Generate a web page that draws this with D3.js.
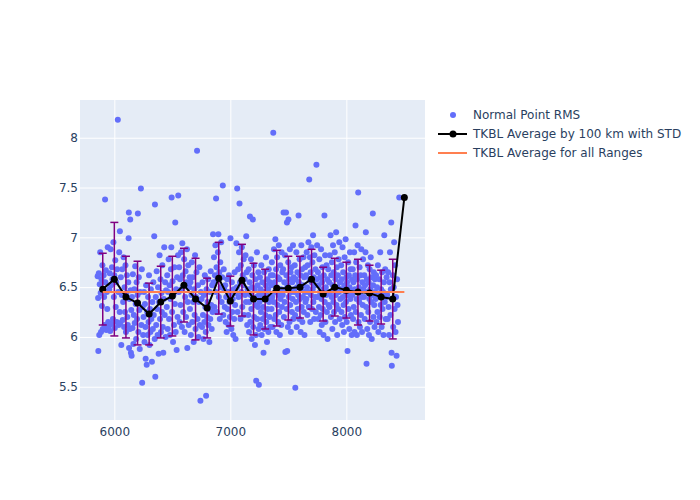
<!DOCTYPE html>
<html>
<head>
<meta charset="utf-8">
<script src="https://cdn.jsdelivr.net/npm/d3@7"></script>
<style>
  html, body { margin: 0; padding: 0; background: #fff; }
  text { font-family: "DejaVu Sans", sans-serif; }
</style>
</head>
<body>
<svg id="chart" width="700" height="500"></svg>
<script>
// ---- data ----
const rmsPoints = [
[5856,6.61],[5860,6.39],[5862,5.86],[5866,6.64],[5870,6.02],[5874,6.53],[5878,6.85],[5882,6.44],[5885,6.05],[5889,6.58],[5893,6.31],[5897,6.72],[5900,6.08],[5904,6.48],[5908,6.62],[5912,6.40],[5916,6.12],[5920,7.38],[5923,6.55],[5927,6.67],[5931,6.07],[5935,6.45],[5939,6.28],[5943,6.90],[5947,6.15],
[5952,6.10],[5956,6.48],[5960,6.64],[5964,6.06],[5968,6.88],[5972,6.52],[5976,6.13],[5980,6.70],[5984,6.58],[5988,6.18],[5992,6.95],[5996,6.40],[6000,6.62],[6004,6.09],[6008,6.77],[6012,6.30],[6016,6.55],[6020,6.15],[6024,6.68],[6030,8.18],[6034,6.45],[6038,6.12],[6042,6.85],[6046,6.25],[6048,7.06],
[6052,6.14],[6056,6.60],[6060,5.92],[6064,6.42],[6068,6.68],[6072,6.17],[6076,6.35],[6080,6.80],[6084,6.10],[6088,6.50],[6092,6.25],[6096,6.72],[6100,6.05],[6104,6.44],[6108,6.62],[6112,6.20],[6116,6.12],[6120,6.55],[6123,6.99],[6125,7.25],[6127,5.89],[6131,6.38],[6134,6.08],[6137,7.18],[6140,6.47],[6143,5.84],[6146,6.27],[6149,5.81],
[6152,6.40],[6156,6.09],[6160,6.63],[6164,5.93],[6168,6.22],[6172,6.48],[6176,6.14],[6180,6.71],[6184,6.33],[6188,5.98],[6192,6.55],[6196,6.18],[6200,6.42],[6203,7.24],[6207,6.05],[6211,6.60],[6215,6.27],[6219,5.88],[6223,6.45],[6229,7.49],[6233,6.12],[6237,6.68],[6240,5.54],[6244,6.30],[6248,6.02],
[6252,6.20],[6256,6.45],[6260,5.95],[6264,6.33],[6268,6.10],[6270,5.78],[6274,6.52],[6279,5.72],[6283,6.25],[6287,6.02],[6291,6.40],[6295,6.15],[6299,6.62],[6303,5.92],[6307,6.28],[6311,6.05],[6315,6.48],[6319,6.18],[6324,5.75],[6328,6.35],[6332,6.08],[6336,6.55],[6340,6.22],[6344,7.01],[6348,5.98],
[6350,7.33],[6353,5.60],[6357,6.40],[6361,6.12],[6365,6.66],[6369,6.28],[6373,6.02],[6377,6.50],[6382,5.83],[6386,6.35],[6390,6.82],[6394,6.18],[6398,6.58],[6402,6.05],[6406,6.44],[6410,6.25],[6414,6.72],[6418,6.10],[6422,5.84],[6426,6.38],[6430,6.90],[6434,6.22],[6438,6.55],[6442,6.00],[6446,6.47],
[6452,6.30],[6456,6.62],[6460,6.08],[6464,6.45],[6468,6.78],[6472,6.18],[6476,6.52],[6480,6.02],[6484,6.38],[6488,6.68],[6491,6.90],[6494,7.40],[6498,6.25],[6502,6.56],[6506,5.95],[6510,6.42],[6514,6.12],[6518,6.70],[6522,6.33],[6525,7.15],[6529,6.05],[6533,6.48],[6537,5.87],[6541,6.60],[6545,6.20],[6549,6.82],
[6551,7.42],[6555,6.45],[6559,6.70],[6563,6.15],[6567,6.58],[6571,6.32],[6575,6.85],[6579,6.48],[6583,6.10],[6586,6.94],[6590,6.62],[6594,6.25],[6598,6.52],[6602,6.78],[6606,6.05],[6610,6.40],[6614,6.66],[6618,6.20],[6622,6.55],[6626,6.88],[6629,5.89],[6633,6.35],[6637,6.72],[6641,6.12],[6645,6.50],[6649,6.60],
[6652,6.28],[6656,6.55],[6660,6.02],[6664,6.42],[6668,6.75],[6672,6.15],[6676,6.60],[6680,6.35],[6684,5.95],[6688,6.48],[6692,6.22],[6696,6.82],[6700,6.08],[6704,6.40],[6708,6.65],[6713,7.87],[6717,6.18],[6721,6.52],[6725,6.00],[6729,6.35],[6733,6.70],[6737,6.12],[6742,5.36],[6746,6.45],
[6752,6.38],[6756,6.10],[6760,6.55],[6764,6.22],[6768,5.98],[6772,6.42],[6776,6.15],[6780,6.62],[6784,6.30],[6788,6.05],[6791,5.41],[6795,6.48],[6799,6.20],[6803,6.35],[6807,6.58],[6811,6.12],[6815,6.28],[6819,5.95],[6823,6.45],[6827,6.18],[6831,6.66],[6835,6.32],[6839,6.08],[6843,6.52],[6847,6.25],
[6851,7.03],[6855,6.55],[6859,6.80],[6863,6.30],[6867,6.62],[6871,6.92],[6875,6.45],[6877,7.39],[6881,6.70],[6885,6.25],[6889,6.58],[6893,6.85],[6897,7.03],[6901,6.40],[6905,6.65],[6909,6.18],[6913,6.75],[6917,6.50],[6921,6.95],[6925,6.35],[6929,6.60],[6935,7.52],[6939,6.22],[6943,6.68],[6947,6.48],
[6952,6.30],[6956,6.52],[6960,6.15],[6964,6.40],[6968,6.05],[6972,6.58],[6976,6.28],[6980,6.45],[6984,6.12],[6988,6.62],[6992,6.35],[6996,6.20],[7001,6.99],[7005,6.42],[7009,6.08],[7013,6.55],[7017,6.25],[7021,6.38],[7025,6.02],[7029,6.48],[7033,6.18],[7037,6.65],[7041,6.32],[7045,5.98],[7049,6.44],
[7052,6.94],[7056,6.50],[7059,7.49],[7063,6.25],[7067,6.68],[7071,6.40],[7075,6.85],[7079,7.34],[7083,6.55],[7087,6.18],[7091,6.72],[7095,6.45],[7099,6.90],[7103,6.30],[7107,6.62],[7111,6.52],[7115,6.78],[7119,6.22],[7123,6.58],[7127,6.42],[7131,6.82],[7135,6.35],[7137,7.01],[7141,6.65],[7145,6.12],[7149,6.48],
[7152,6.45],[7155,6.22],[7158,6.68],[7161,6.05],[7164,6.35],[7167,6.55],[7169,7.21],[7172,6.15],[7175,6.42],[7178,6.78],[7181,6.28],[7184,5.98],[7187,6.50],[7190,6.62],[7194,7.18],[7197,6.10],[7200,6.38],[7203,6.72],[7206,6.20],[7209,6.48],[7212,5.92],[7215,6.32],[7218,6.58],[7221,6.02],[7223,5.56],[7226,6.40],[7229,6.85],[7232,6.18],[7235,6.52],[7238,6.30],[7241,6.65],[7244,6.08],[7246,5.52],[7249,6.44],
[7252,6.35],[7255,6.60],[7258,6.12],[7261,6.48],[7264,6.25],[7267,6.72],[7270,6.02],[7273,6.40],[7276,6.55],[7279,6.18],[7282,6.30],[7286,5.84],[7289,6.45],[7292,6.65],[7295,6.08],[7298,6.38],[7301,6.22],[7304,6.52],[7307,6.80],[7310,6.15],[7313,6.42],[7316,5.95],[7319,6.58],[7322,6.28],[7325,6.48],[7328,6.05],[7331,6.68],[7334,6.35],[7337,6.20],[7340,6.55],[7343,6.10],[7346,6.40],[7349,6.62],
[7352,6.52],[7355,6.28],[7358,6.75],[7361,6.40],[7364,6.10],[7367,6.62],[7370,8.05],[7373,6.35],[7376,6.88],[7379,6.18],[7382,6.55],[7385,6.45],[7388,6.98],[7391,6.22],[7394,6.68],[7397,6.05],[7400,6.50],[7403,6.80],[7406,6.32],[7409,6.60],[7412,6.15],[7415,6.42],[7418,6.92],[7421,6.25],[7424,6.58],[7427,6.02],[7430,6.72],[7433,6.38],[7436,6.48],[7439,6.12],[7442,6.85],[7445,6.30],[7448,6.65],
[7452,6.42],[7455,6.68],[7459,7.25],[7462,6.20],[7465,6.55],[7468,6.35],[7471,6.82],[7474,5.85],[7477,6.48],[7480,7.25],[7483,6.62],[7486,6.28],[7488,7.15],[7490,5.86],[7493,6.52],[7496,6.10],[7499,6.75],[7501,7.18],[7504,6.40],[7507,6.58],[7510,6.15],[7513,6.88],[7516,6.32],[7519,6.65],[7522,6.05],[7525,6.45],[7528,6.70],[7531,6.25],[7534,6.55],[7537,6.38],[7540,6.92],[7543,6.18],[7546,6.60],[7549,6.48],
[7552,6.45],[7555,6.72],[7558,6.22],[7560,5.49],[7563,6.58],[7566,6.35],[7569,6.85],[7572,6.10],[7575,6.50],[7578,6.65],[7581,6.28],[7584,6.42],[7588,7.22],[7591,6.55],[7594,6.18],[7597,6.78],[7600,6.38],[7603,6.62],[7606,6.05],[7609,6.48],[7612,6.92],[7615,6.30],[7618,6.68],[7621,6.15],[7624,6.52],[7627,6.40],[7630,6.80],[7633,6.25],[7636,6.60],[7639,6.02],[7642,6.45],[7645,6.70],[7648,6.35],
[7652,6.62],[7655,6.38],[7658,6.85],[7661,6.50],[7664,6.22],[7667,6.72],[7670,6.45],[7673,6.95],[7676,6.30],[7680,7.58],[7683,6.58],[7686,6.80],[7689,6.15],[7692,6.65],[7695,6.42],[7698,6.90],[7701,6.55],[7704,6.28],[7707,6.75],[7710,6.48],[7713,7.02],[7716,6.35],[7719,6.60],[7722,6.18],[7725,6.82],[7728,6.52],[7731,6.40],[7734,6.68],[7737,6.25],[7742,7.73],[7745,6.58],[7748,6.92],
[7752,6.40],[7755,6.65],[7758,6.18],[7761,6.52],[7764,6.30],[7767,6.78],[7770,6.05],[7773,6.45],[7776,6.60],[7779,6.22],[7782,6.88],[7785,6.38],[7788,6.12],[7791,6.55],[7794,6.70],[7797,6.28],[7800,6.48],[7803,6.02],[7806,6.62],[7811,7.22],[7814,6.35],[7817,6.82],[7820,6.15],[7823,6.50],[7826,6.42],[7829,6.72],[7832,6.25],[7835,6.58],[7838,5.98],[7841,6.45],[7844,6.68],[7847,6.32],
[7852,6.55],[7855,6.30],[7858,6.82],[7861,6.45],[7864,7.02],[7867,6.20],[7870,6.62],[7873,6.40],[7876,6.75],[7879,6.08],[7882,6.52],[7885,6.92],[7888,6.35],[7891,6.65],[7894,6.25],[7897,6.48],[7900,6.85],[7903,6.15],[7906,6.58],[7909,6.42],[7912,7.05],[7915,6.32],[7918,6.70],[7921,6.02],[7924,6.50],[7927,6.62],[7930,6.28],[7933,6.78],[7936,6.45],[7939,6.95],[7942,6.18],[7945,6.55],[7948,6.38],
[7952,6.48],[7955,6.72],[7958,6.25],[7961,6.58],[7964,6.12],[7967,6.90],[7970,6.40],[7973,6.65],[7976,6.32],[7979,6.05],[7982,6.52],[7985,6.80],[7988,6.20],[7991,6.45],[7994,6.98],[7997,6.35],[8000,6.60],[8003,6.15],[8006,6.55],[8010,5.86],[8013,6.42],[8016,6.75],[8019,6.28],[8022,6.62],[8025,6.08],[8028,6.50],[8031,6.85],[8034,6.38],[8037,6.68],[8040,6.22],[8043,6.45],[8046,6.02],[8049,6.58],
[8052,6.42],[8055,6.68],[8058,6.18],[8061,6.55],[8064,6.30],[8067,6.85],[8070,6.05],[8073,6.48],[8076,6.62],[8079,7.12],[8082,6.25],[8085,6.75],[8088,6.38],[8091,6.02],[8094,6.58],[8097,6.92],[8102,7.45],[8105,6.15],[8108,6.50],[8111,6.35],[8114,6.70],[8117,6.10],[8120,6.45],[8123,6.62],[8126,6.22],[8129,6.88],[8132,6.40],[8135,6.05],[8138,6.55],[8141,6.32],[8144,6.78],[8147,6.48],
[8152,6.40],[8155,6.62],[8158,6.18],[8161,6.52],[8165,6.85],[8168,7.05],[8171,6.30],[8174,5.73],[8177,6.58],[8180,6.08],[8183,6.45],[8186,6.72],[8189,6.25],[8192,6.55],[8195,6.02],[8198,6.38],[8201,6.68],[8204,6.15],[8207,6.48],[8210,6.80],[8213,6.35],[8216,6.60],[8219,5.98],[8222,6.42],[8228,7.24],[8231,6.52],[8234,6.20],[8237,6.65],[8240,6.32],[8243,6.10],[8246,6.58],[8249,6.45],
[8252,6.38],[8256,6.62],[8260,6.15],[8264,6.50],[8268,6.25],[8272,6.72],[8276,6.05],[8280,6.42],[8284,6.58],[8288,6.20],[8292,6.85],[8296,6.32],[8300,6.48],[8304,6.10],[8308,6.65],[8312,6.28],[8316,6.45],[8320,6.02],[8324,6.55],[8327,7.02],[8331,6.35],[8335,6.68],[8339,6.18],[8343,6.40],[8347,6.60],
[8352,6.42],[8356,6.18],[8360,6.65],[8364,6.30],[8368,6.02],[8372,6.55],[8376,6.85],[8380,6.22],[8384,6.48],[8387,7.15],[8390,5.84],[8392,5.71],[8396,6.38],[8400,6.62],[8404,6.10],[8408,6.50],[8412,6.95],[8416,6.28],[8420,6.72],[8424,6.05],[8428,6.40],[8433,5.81],[8437,6.58],[8441,6.32],[8445,6.15],
[8456,7.40]
];

const binRanges = [5900,6000,6100,6200,6300,6400,6500,6600,6700,6800,6900,7000,7100,7200,7300,7400,7500,7600,7700,7800,7900,8000,8100,8200,8300,8400,8500];
const binAverage = [6.48,6.58,6.40,6.34,6.23,6.35,6.41,6.52,6.38,6.29,6.59,6.36,6.57,6.38,6.38,6.49,6.49,6.50,6.58,6.43,6.50,6.47,6.45,6.44,6.40,6.38,7.40];
const binStd = [0.36,0.57,0.41,0.42,0.31,0.36,0.40,0.37,0.41,0.30,0.36,0.25,0.36,0.36,0.30,0.38,0.32,0.31,0.30,0.27,0.29,0.28,0.33,0.28,0.27,0.40,0];
const overallAverage = 6.45;
const overallRange = [5900, 8500];

const xTicks = [6000, 7000, 8000];
const yTicks = [5.5, 6, 6.5, 7, 7.5, 8];

const legendLabels = ["Normal Point RMS", "TKBL Average by 100 km with STD", "TKBL Average for all Ranges"];

// ---- layout ----
const svg = d3.select("#chart");
const W = 700, H = 500;
const plot = {left: 80, right: 425, top: 100, bottom: 420};
const FONT = '"DejaVu Sans", sans-serif';

svg.append("rect").attr("width", W).attr("height", H).attr("fill", "#fff");

const x = d3.scaleLinear().domain([5704, 8678]).range([plot.left, plot.right]);
const y = d3.scaleLinear().domain([5.166, 8.379]).range([plot.bottom, plot.top]);

svg.append("rect")
  .attr("x", plot.left).attr("y", plot.top)
  .attr("width", plot.right - plot.left).attr("height", plot.bottom - plot.top)
  .attr("fill", "#E5ECF6");

const gx = svg.append("g").attr("transform", `translate(0,${plot.bottom})`)
  .call(d3.axisBottom(x).tickValues(xTicks).tickSize(-(plot.bottom - plot.top)).tickFormat(d3.format("d")).tickPadding(7));
const gy = svg.append("g").attr("transform", `translate(${plot.left},0)`)
  .call(d3.axisLeft(y).tickValues(yTicks).tickSize(-(plot.right - plot.left)).tickFormat(d => String(d)).tickPadding(2));
[gx, gy].forEach(g => {
  g.select(".domain").remove();
  g.selectAll(".tick line").attr("stroke", "#fff").attr("stroke-width", 1);
  g.selectAll(".tick text").attr("fill", "#2a3f5f").style("font-size", "12px").style("font-family", FONT);
});

svg.append("defs").append("clipPath").attr("id", "clip")
  .append("rect").attr("x", plot.left).attr("y", plot.top)
  .attr("width", plot.right - plot.left).attr("height", plot.bottom - plot.top);

const layer = svg.append("g").attr("clip-path", "url(#clip)");

// scatter
layer.append("g").selectAll("circle").data(rmsPoints).join("circle")
  .attr("cx", d => x(d[0])).attr("cy", d => y(d[1])).attr("r", 3)
  .attr("fill", "#636efa");

// error bars
const bins = binRanges.map((r, i) => ({r, m: binAverage[i], s: binStd[i]}));
const eb = layer.append("g").attr("stroke", "purple").attr("stroke-width", 1.5).attr("fill", "none");
bins.filter(d => d.s > 0).forEach(d => {
  const cx = x(d.r), y1 = y(d.m + d.s), y2 = y(d.m - d.s);
  eb.append("line").attr("x1", cx).attr("x2", cx).attr("y1", y1).attr("y2", y2);
  eb.append("line").attr("x1", cx - 4).attr("x2", cx + 4).attr("y1", y1).attr("y2", y1);
  eb.append("line").attr("x1", cx - 4).attr("x2", cx + 4).attr("y1", y2).attr("y2", y2);
});

// average line
layer.append("path").datum(bins)
  .attr("d", d3.line().x(d => x(d.r)).y(d => y(d.m)))
  .attr("fill", "none").attr("stroke", "#000").attr("stroke-width", 2);
layer.append("g").selectAll("circle").data(bins).join("circle")
  .attr("cx", d => x(d.r)).attr("cy", d => y(d.m)).attr("r", 3.5).attr("fill", "#000");

// overall average
layer.append("line")
  .attr("x1", x(overallRange[0])).attr("x2", x(overallRange[1]))
  .attr("y1", y(overallAverage)).attr("y2", y(overallAverage))
  .attr("stroke", "coral").attr("stroke-width", 2);

// legend
const lg = svg.append("g").attr("transform", "translate(438,0)");
const ly = [115, 134, 153];
lg.append("circle").attr("cx", 15).attr("cy", ly[0]).attr("r", 3).attr("fill", "#636efa");
lg.append("line").attr("x1", 0).attr("x2", 29).attr("y1", ly[1]).attr("y2", ly[1]).attr("stroke", "#000").attr("stroke-width", 2);
lg.append("circle").attr("cx", 15).attr("cy", ly[1]).attr("r", 3.5).attr("fill", "#000");
lg.append("line").attr("x1", 0).attr("x2", 29).attr("y1", ly[2]).attr("y2", ly[2]).attr("stroke", "coral").attr("stroke-width", 2);
legendLabels.forEach((t, i) => {
  lg.append("text").attr("x", 35).attr("y", ly[i]).attr("dy", "0.35em")
    .attr("fill", "#2a3f5f").style("font-size", "12px").style("font-family", FONT).text(t);
});
</script>
</body>
</html>
